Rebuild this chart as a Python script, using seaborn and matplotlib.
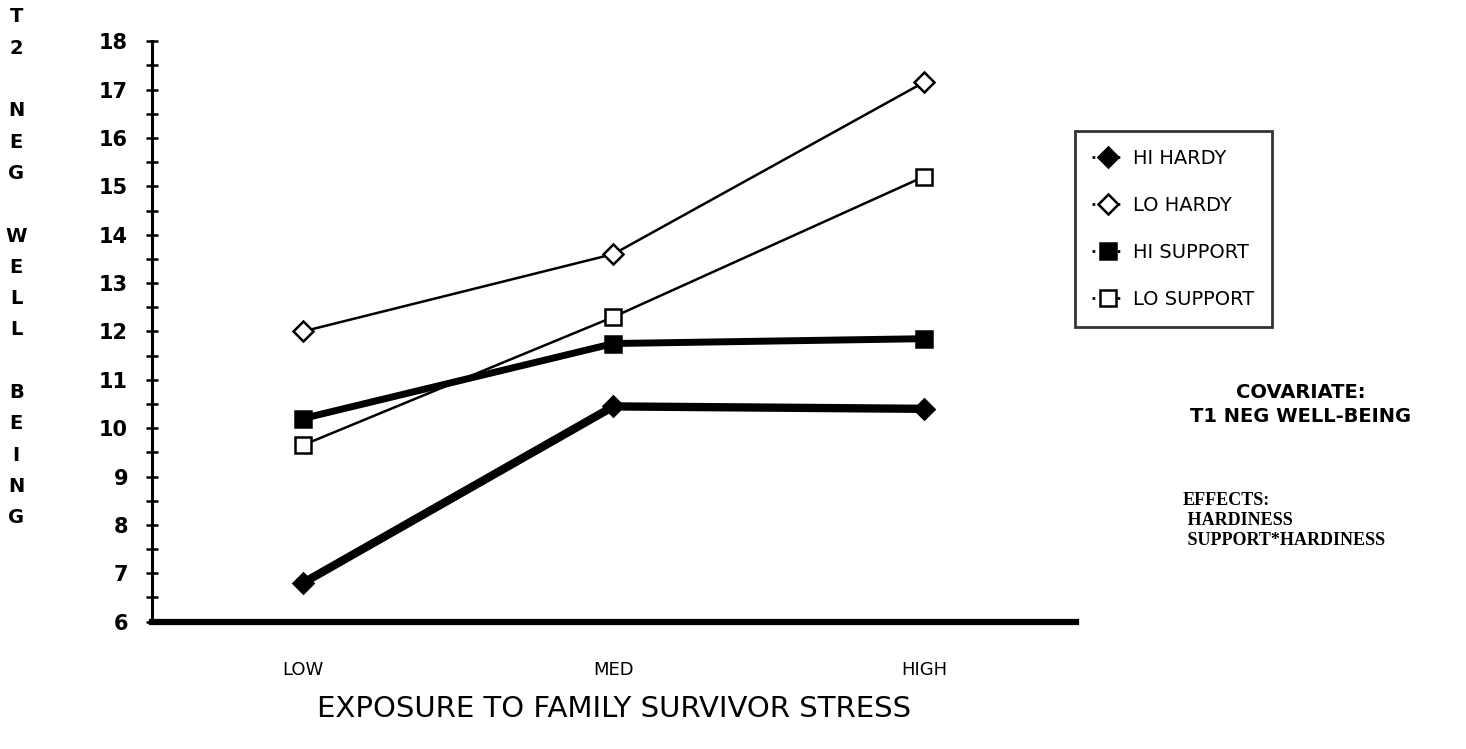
import matplotlib
matplotlib.use("Agg")
import pandas as pd
import seaborn as sns
import matplotlib.pyplot as plt
from matplotlib.ticker import MultipleLocator

# Values
exposure = ["LOW", "MED", "HIGH"]
hi_hardy = [6.8, 10.45, 10.4]
lo_hardy = [12.0, 13.6, 17.15]
hi_support = [10.2, 11.75, 11.85]
lo_support = [9.65, 12.3, 15.2]

series = {
    "HI HARDY": hi_hardy,
    "LO HARDY": lo_hardy,
    "HI SUPPORT": hi_support,
    "LO SUPPORT": lo_support,
}

# marker, filled?, line width
styles = {
    "HI HARDY": ("D", True, 6),
    "LO HARDY": ("D", False, 1.8),
    "HI SUPPORT": ("s", True, 5),
    "LO SUPPORT": ("s", False, 1.8),
}

sns.set_style("white")
plt.rcParams["text.color"] = "black"
plt.rcParams["axes.labelcolor"] = "black"
plt.rcParams["xtick.color"] = "black"
plt.rcParams["ytick.color"] = "black"

fig = plt.figure(figsize=(14.66, 7.49), dpi=100)
ax = fig.add_axes([0.104, 0.17, 0.63, 0.775])

for name, vals in series.items():
    df = pd.DataFrame({"exposure": exposure, "score": vals})
    marker, filled, lw = styles[name]
    sns.lineplot(
        data=df, x="exposure", y="score", ax=ax, label=name,
        color="black", linewidth=lw, marker=marker,
        markersize=11 if marker == "s" else 10,
        markerfacecolor="black" if filled else "white",
        markeredgecolor="black", markeredgewidth=1.8,
    )

ax.set_xlim(-0.485, 2.49)
ax.set_ylim(6, 18)
ax.yaxis.set_major_locator(MultipleLocator(1))
ax.yaxis.set_minor_locator(MultipleLocator(0.5))
ax.tick_params(axis="y", which="both", left=True, direction="inout", length=9,
               width=1.8, labelsize=15, pad=13, colors="black")
ax.tick_params(axis="x", length=0, labelsize=13, pad=28, colors="black")
for lbl in ax.get_yticklabels():
    lbl.set_fontweight("bold")

for side in ["top", "right"]:
    ax.spines[side].set_visible(False)
ax.spines["left"].set_linewidth(2.2)
ax.spines["bottom"].set_linewidth(4.5)
ax.spines["left"].set_color("black")
ax.spines["bottom"].set_color("black")

ax.set_xlabel("EXPOSURE TO FAMILY SURVIVOR STRESS", fontsize=21, labelpad=12,
              color="black")
ax.set_ylabel("")

# stacked vertical y-axis title
fig.text(0.011, 0.99, "T\n2\n\nN\nE\nG\n\nW\nE\nL\nL\n\nB\nE\nI\nN\nG",
         ha="center", va="top", fontsize=14, fontweight="heavy",
         linespacing=1.82, color="black")

# legend
leg = ax.legend(loc="upper left", bbox_to_anchor=(0.733, 0.825),
                bbox_transform=fig.transFigure, frameon=True, fancybox=False,
                fontsize=14, labelspacing=1.45, handlelength=1.6,
                handletextpad=0.5, borderpad=0.9, borderaxespad=0)
leg.get_frame().set_edgecolor("black")
leg.get_frame().set_linewidth(2)
for t in leg.get_texts():
    t.set_color("black")
for h in leg.legend_handles:
    h.set_linewidth(2)
    h.set_linestyle((0, (1, 2)))

fig.text(0.887, 0.46, "COVARIATE:\nT1 NEG WELL-BEING", ha="center", va="center",
         fontsize=14, fontweight="bold", linespacing=1.3, color="black")
fig.text(0.807, 0.305, "EFFECTS:\n HARDINESS\n SUPPORT*HARDINESS", ha="left",
         va="center", fontsize=13, fontweight="bold", family="Liberation Serif",
         linespacing=1.25, color="black")

fig.savefig("out.png", dpi=100, facecolor="white")
